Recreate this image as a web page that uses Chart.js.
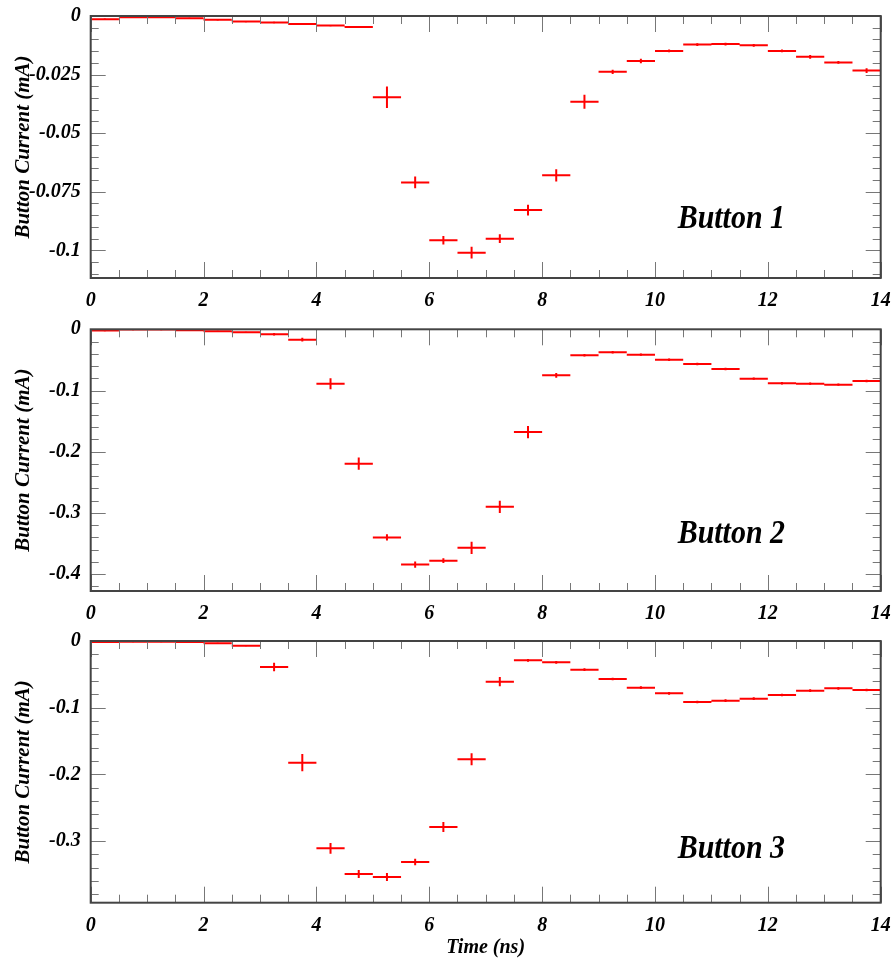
<!DOCTYPE html>
<html>
<head>
<meta charset="utf-8">
<script src="https://cdn.jsdelivr.net/npm/chart.js@4/dist/chart.umd.min.js"></script>
<style>
  html, body { margin: 0; padding: 0; background: #ffffff; }
  #wrap { position: relative; width: 894px; height: 962px; }
  canvas { position: absolute; left: 0; }
</style>
</head>
<body>
<div id="wrap">
  <canvas id="c1" width="894" height="310" style="top:0px"></canvas>
  <canvas id="c2" width="894" height="312" style="top:310px"></canvas>
  <canvas id="c3" width="894" height="340" style="top:622px"></canvas>
</div>
<script>
// ---------------- data ----------------
const binCenters = [0.25, 0.75, 1.25, 1.75, 2.25, 2.75, 3.25, 3.75, 4.25, 4.75,
                    5.25, 5.75, 6.25, 6.75, 7.25, 7.75, 8.25, 8.75, 9.25, 9.75,
                    10.25, 10.75, 11.25, 11.75, 12.25, 12.75, 13.25, 13.75];
const binHalfWidth = 0.25;

const button1 = [-0.0014, -0.0005, -0.0005, -0.0010, -0.0016, -0.0024, -0.0028, -0.0034, -0.0041, -0.0047,
                 -0.0347, -0.0710, -0.0957, -0.1010, -0.0950, -0.0828, -0.0680, -0.0366, -0.0238, -0.0192,
                 -0.0149, -0.0122, -0.0120, -0.0125, -0.0149, -0.0174, -0.0198, -0.0233];
const button1Err = [0.0003, 0.0003, 0.0003, 0.0003, 0.0003, 0.0003, 0.0003, 0.0003, 0.0003, 0.0003,
                    0.0046, 0.0025, 0.0018, 0.0025, 0.0019, 0.0023, 0.0026, 0.0030, 0.0009, 0.0010,
                    0.0006, 0.0006, 0.0006, 0.0006, 0.0006, 0.0008, 0.0006, 0.0010];

const button2 = [-0.0020, -0.0005, -0.0005, -0.0016, -0.0033, -0.0049, -0.0082, -0.0169, -0.0888, -0.2195,
                 -0.3400, -0.3845, -0.3780, -0.3570, -0.2900, -0.1680, -0.0752, -0.0425, -0.0376, -0.0414,
                 -0.0496, -0.0566, -0.0648, -0.0806, -0.0882, -0.0888, -0.0904, -0.0844];
const button2Err = [0.001, 0.001, 0.001, 0.001, 0.001, 0.001, 0.002, 0.003, 0.009, 0.010,
                    0.005, 0.005, 0.004, 0.010, 0.010, 0.010, 0.004, 0.002, 0.002, 0.002,
                    0.002, 0.002, 0.002, 0.002, 0.002, 0.002, 0.002, 0.002];

const button3 = [-0.0015, -0.0010, -0.0010, -0.0015, -0.0035, -0.0070, -0.0390, -0.1825, -0.3110, -0.3495,
                 -0.3540, -0.3315, -0.2790, -0.1775, -0.0610, -0.0290, -0.0320, -0.0430, -0.0570, -0.0700,
                 -0.0785, -0.0915, -0.0895, -0.0865, -0.0810, -0.0745, -0.0710, -0.0735];
const button3Err = [0.001, 0.001, 0.001, 0.001, 0.001, 0.001, 0.0065, 0.013, 0.008, 0.006,
                    0.006, 0.005, 0.0075, 0.009, 0.007, 0.002, 0.002, 0.002, 0.002, 0.002,
                    0.002, 0.002, 0.002, 0.002, 0.002, 0.002, 0.002, 0.002];

const panelLabels = ['Button 1', 'Button 2', 'Button 3'];
const xTickLabels = ['0', '2', '4', '6', '8', '10', '12', '14'];
const yTitle = 'Button Current (mA)';
const xTitle = 'Time (ns)';

// ---------------- helpers ----------------
const FONT_FAMILY = '"Liberation Serif", "Times New Roman", serif';
const RED = '#ff0000';

function hSegments(values) {
  const pts = [];
  values.forEach((v, i) => {
    pts.push({x: binCenters[i] - binHalfWidth, y: v});
    pts.push({x: binCenters[i] + binHalfWidth, y: v});
    pts.push({x: binCenters[i] + binHalfWidth, y: null});
  });
  return pts;
}
function vSegments(values, errs) {
  const pts = [];
  values.forEach((v, i) => {
    pts.push({x: binCenters[i], y: v - errs[i]});
    pts.push({x: binCenters[i], y: v + errs[i]});
    pts.push({x: binCenters[i], y: null});
  });
  return pts;
}

const framePlugin = {
  id: 'rootFrame',
  afterDatasetsDraw(chart, args, opts) {
    const {ctx, chartArea: a, scales} = chart;
    const xs = scales.x, ys = scales.y;
    ctx.save();
    // ticks
    ctx.strokeStyle = '#777';
    ctx.lineWidth = 1;
    ctx.beginPath();
    for (let k = 0; k <= 28; k++) {
      const v = k * 0.5;
      const px = Math.round(xs.getPixelForValue(v)) + 0.5;
      const len = (k % 4 === 0) ? 16 : 8;
      ctx.moveTo(px, a.bottom); ctx.lineTo(px, a.bottom - len);
      ctx.moveTo(px, a.top); ctx.lineTo(px, a.top + len);
    }
    const nMinor = Math.floor((0 - opts.ymin) / opts.minor + 1e-6);
    for (let k = 0; k <= nMinor; k++) {
      const v = -k * opts.minor;
      const py = Math.round(ys.getPixelForValue(v)) + 0.5;
      const len = (k % opts.perMajor === 0) ? 15 : 8;
      ctx.moveTo(a.left, py); ctx.lineTo(a.left + len, py);
      ctx.moveTo(a.right, py); ctx.lineTo(a.right - len, py);
    }
    ctx.stroke();
    // frame
    ctx.strokeStyle = '#444';
    ctx.lineWidth = 2;
    ctx.strokeRect(a.left, a.top, a.right - a.left, a.bottom - a.top);
    // panel label
    ctx.fillStyle = '#000';
    ctx.font = 'italic bold 34px ' + FONT_FAMILY;
    ctx.textAlign = 'left';
    ctx.textBaseline = 'alphabetic';
    ctx.translate(a.left + 587, a.bottom - opts.labelUp);
    ctx.scale(0.88, 1);
    ctx.fillText(opts.label, 0, 0);
    ctx.restore();
  }
};

function zeroPadding(s) {
  s.paddingTop = 0; s.paddingBottom = 0; s.paddingLeft = 0; s.paddingRight = 0;
}

function makePanel(canvasId, values, errs, cfg) {
  const ctx = document.getElementById(canvasId).getContext('2d');
  return new Chart(ctx, {
    type: 'scatter',
    data: {
      datasets: [
        {data: hSegments(values), showLine: true, borderColor: RED, borderWidth: 2,
         pointRadius: 0, pointHoverRadius: 0, spanGaps: false, tension: 0},
        {data: vSegments(values, errs), showLine: true, borderColor: RED, borderWidth: 2,
         pointRadius: 0, pointHoverRadius: 0, spanGaps: false, tension: 0}
      ]
    },
    options: {
      responsive: false,
      animation: false,
      devicePixelRatio: 1,
      layout: {padding: {left: 0, right: 13.3, top: cfg.top, bottom: 0}},
      plugins: {
        legend: {display: false},
        tooltip: {enabled: false},
        rootFrame: {ymin: cfg.ymin, minor: cfg.minor, perMajor: cfg.perMajor,
                    label: cfg.label, labelUp: cfg.labelUp}
      },
      scales: {
        x: {
          type: 'linear', min: 0, max: 14,
          grid: {display: false, drawTicks: false}, border: {display: false},
          ticks: {stepSize: 2, padding: 11, color: '#000', maxRotation: 0, autoSkip: false,
                  font: {family: FONT_FAMILY, size: 20, style: 'italic', weight: 'bold'},
                  callback: (v) => { const i = xTickLabels.indexOf(String(v)); return i >= 0 ? xTickLabels[i] : ''; }},
          title: {display: cfg.showXTitle, text: xTitle, color: '#000',
                  padding: {top: 0, bottom: 2},
                  font: {family: FONT_FAMILY, size: 20, style: 'italic', weight: 'bold'}},
          afterFit: (s) => { s.height = cfg.xAxisHeight; zeroPadding(s); }
        },
        y: {
          type: 'linear', min: cfg.ymin, max: 0,
          grid: {display: false, drawTicks: false}, border: {display: false},
          ticks: {stepSize: cfg.major, includeBounds: false, padding: 10, color: '#000',
                  font: {family: FONT_FAMILY, size: 20, style: 'italic', weight: 'bold'},
                  callback: (v) => String(+(+v).toFixed(3))},
          title: {display: true, text: yTitle, color: '#000',
                  padding: {top: 11, bottom: 0},
                  font: {family: FONT_FAMILY, size: 21, style: 'italic', weight: 'bold'}},
          afterFit: (s) => { s.width = 90.7; zeroPadding(s); }
        }
      }
    },
    plugins: [framePlugin]
  });
}

makePanel('c1', button1, button1Err,
  {top: 16, ymin: -0.1118, major: 0.025, minor: 0.005, perMajor: 5, label: panelLabels[0],
   labelUp: 50, xAxisHeight: 32, showXTitle: false});
makePanel('c2', button2, button2Err,
  {top: 19.3, ymin: -0.4276, major: 0.1, minor: 0.02, perMajor: 5, label: panelLabels[1],
   labelUp: 48, xAxisHeight: 31, showXTitle: false});
makePanel('c3', button3, button3Err,
  {top: 19, ymin: -0.3925, major: 0.1, minor: 0.02, perMajor: 5, label: panelLabels[2],
   labelUp: 45, xAxisHeight: 59.3, showXTitle: true});
</script>
</body>
</html>
